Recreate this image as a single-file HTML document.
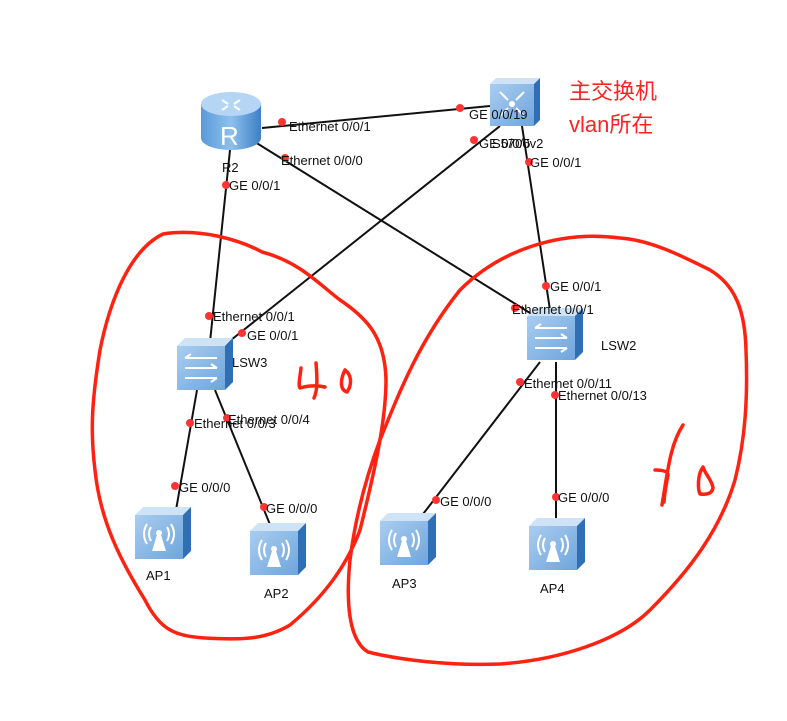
<!DOCTYPE html>
<html><head><meta charset="utf-8"><style>
html,body{margin:0;padding:0;background:#fff;}
svg{display:block;}
text{font-family:"Liberation Sans",Arial,sans-serif;font-size:13px;fill:#111;}
.lbl{font-size:13px;}
.dev{font-size:14px;fill:#222;}
</style></head><body>
<svg width="787" height="721" viewBox="0 0 787 721" xmlns="http://www.w3.org/2000/svg">
<defs>
<linearGradient id="fg" x1="0" y1="0" x2="1" y2="1"><stop offset="0" stop-color="#a9cdf0"/><stop offset="1" stop-color="#6fa5dc"/></linearGradient>
<linearGradient id="rg" x1="0" y1="0" x2="1" y2="0"><stop offset="0" stop-color="#5a9ad8"/><stop offset="0.5" stop-color="#8cc0ee"/><stop offset="1" stop-color="#3f7fc4"/></linearGradient>
<g id="box">
<polygon points="0,8 8,0 56,0 48,8" fill="#cfe3f7"/>
<polygon points="48,8 56,0 56,44 48,52" fill="#2f6fb5"/>
<rect x="0" y="8" width="48" height="44" fill="url(#fg)"/>
</g>
<g id="ap">
<use href="#box"/>
<path d="M17,44 L22,28 L26,28 L31,44 Z" fill="#fff"/>
<circle cx="24" cy="26" r="3" fill="#fff"/>
<path d="M16,20 Q12,27 16,34 M32,20 Q36,27 32,34 M12,17 Q6,27 12,37 M36,17 Q42,27 36,37" stroke="#fff" stroke-width="2" fill="none"/>
</g>
<g id="sw">
<use href="#box"/>
<path d="M8,20 H40 M8,20 l6,-4 M8,30 H40 M40,30 l-6,-4 M8,40 H40 M40,40 l-6,4" stroke="#fff" stroke-width="2" fill="none"/>
</g>
</defs>
<g stroke="#111" stroke-width="2" fill="none">
<line x1="262" y1="128" x2="490" y2="106"/>
<line x1="255" y1="142" x2="530" y2="313"/>
<line x1="230" y1="150" x2="210" y2="342"/>
<line x1="500" y1="126" x2="226" y2="344"/>
<line x1="522" y1="126" x2="550" y2="310"/>
<line x1="197" y1="390" x2="176" y2="510"/>
<line x1="215" y1="390" x2="271" y2="527"/>
<line x1="540" y1="362" x2="420" y2="518"/>
<line x1="556" y1="362" x2="556" y2="522"/>
</g>
<path d="M201,104 V138 A30,12 0 0 0 261,138 V104 Z" fill="url(#rg)"/>
<ellipse cx="231" cy="104" rx="30" ry="12" fill="#b5d5f4"/>
<path d="M222,100 l6,4 M240,100 l-6,4 M222,110 l6,-4 M240,110 l-6,-4" stroke="#fff" stroke-width="2"/>
<text x="220" y="145" style="font-size:26px;fill:#fff">R</text>
<g transform="translate(490,78)">
<polygon points="0,6 6,0 50,0 44,6" fill="#cfe3f7"/>
<polygon points="44,6 50,0 50,42 44,48" fill="#2f6fb5"/>
<rect x="0" y="6" width="44" height="42" fill="url(#fg)"/>
<path d="M10,14 l8,8 M34,14 l-8,8 M10,38 l8,-8 M34,38 l-8,-8" stroke="#fff" stroke-width="2"/>
<circle cx="22" cy="26" r="3" fill="#fff"/>
</g>
<use href="#sw" x="177" y="338"/>
<use href="#sw" x="527" y="308"/>
<use href="#ap" x="135" y="507"/>
<use href="#ap" x="250" y="523"/>
<use href="#ap" x="380" y="513"/>
<use href="#ap" x="529" y="518"/>
<g fill="#f33">
<circle cx="282" cy="122" r="4"/><circle cx="460" cy="108" r="4"/>
<circle cx="285" cy="158" r="4"/><circle cx="474" cy="140" r="4"/>
<circle cx="529" cy="162" r="4"/><circle cx="226" cy="185" r="4"/>
<circle cx="546" cy="286" r="4"/><circle cx="515" cy="308" r="4"/>
<circle cx="209" cy="316" r="4"/><circle cx="242" cy="333" r="4"/>
<circle cx="520" cy="382" r="4"/><circle cx="555" cy="395" r="4"/>
<circle cx="190" cy="423" r="4"/><circle cx="227" cy="418" r="4"/>
<circle cx="175" cy="486" r="4"/><circle cx="264" cy="507" r="4"/>
<circle cx="436" cy="500" r="4"/><circle cx="556" cy="497" r="4"/>
</g>
<g class="lbl">
<text x="289" y="131">Ethernet 0/0/1</text>
<text x="469" y="119">GE 0/0/19</text>
<text x="281" y="165">Ethernet 0/0/0</text>
<text x="479" y="148">GE 0/0/5</text>
<text x="492" y="148">S5700v2</text>
<text x="530" y="167">GE 0/0/1</text>
<text x="229" y="190">GE 0/0/1</text>
<text x="550" y="291">GE 0/0/1</text>
<text x="512" y="314">Ethernet 0/0/1</text>
<text x="213" y="321">Ethernet 0/0/1</text>
<text x="247" y="340">GE 0/0/1</text>
<text x="524" y="388">Ethernet 0/0/11</text>
<text x="558" y="400">Ethernet 0/0/13</text>
<text x="194" y="428">Ethernet 0/0/3</text>
<text x="228" y="424">Ethernet 0/0/4</text>
<text x="179" y="492">GE 0/0/0</text>
<text x="266" y="513">GE 0/0/0</text>
<text x="440" y="506">GE 0/0/0</text>
<text x="558" y="502">GE 0/0/0</text>
</g>
<g class="dev">
<text x="222" y="172">R2</text>
<text x="232" y="367">LSW3</text>
<text x="601" y="350">LSW2</text>
<text x="146" y="580">AP1</text>
<text x="264" y="598">AP2</text>
<text x="392" y="588">AP3</text>
<text x="540" y="593">AP4</text>
</g>
<text x="569" y="99" style="font-size:22px;fill:#f22;font-family:'Liberation Sans','Noto Sans CJK SC',sans-serif">主交换机</text>
<text x="569" y="132" style="font-size:22px;fill:#f22;font-family:'Liberation Sans','Noto Sans CJK SC',sans-serif">vlan所在</text>
<g stroke="#f21" stroke-width="3.5" fill="none" stroke-linejoin="round" stroke-linecap="round">
<path d="M163,234 C200,228 240,240 262,252 C300,262 320,285 340,300 C370,320 385,340 386,380 C386,420 375,470 360,530 C345,570 320,600 290,625 C265,640 240,640 205,638 C175,636 160,630 145,600 C120,560 100,520 95,470 C90,430 92,400 100,350 C110,300 130,250 163,234 Z"/>
<path d="M620,238 C650,240 680,255 710,270 C735,285 745,310 746,350 C748,400 745,440 735,480 C720,530 690,570 650,610 C620,640 560,660 500,664 C450,666 400,660 368,652 C348,640 346,600 350,560 C355,520 365,480 380,440 C400,390 420,340 460,290 C500,250 560,230 620,238"/>
<path d="M301,368 C300,378 298,385 300,388 C310,385 320,386 325,387 M316,363 C317,375 318,390 314,398"/>
<path d="M345,370 C340,380 340,390 347,392 C352,385 352,375 345,370"/>
<path d="M683,425 C670,445 668,470 662,505 M655,470 C665,470 668,472 668,475 C665,490 664,500 664,502"/>
<path d="M703,467 C697,475 698,490 700,494 C708,495 712,493 713,488 C712,480 705,474 703,467"/>
</g>
</svg>
</body></html>
